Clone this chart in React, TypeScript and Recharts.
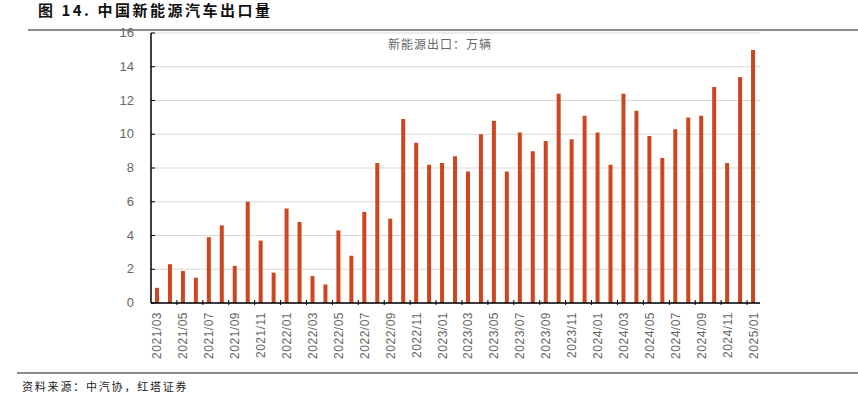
import React from 'react';
import { BarChart, Bar, XAxis, YAxis, CartesianGrid } from 'recharts';

const months = [
    '2021/03', '2021/04', '2021/05', '2021/06', '2021/07', '2021/08', '2021/09', '2021/10', '2021/11', '2021/12',
    '2022/01', '2022/02', '2022/03', '2022/04', '2022/05', '2022/06', '2022/07', '2022/08', '2022/09', '2022/10', '2022/11', '2022/12',
    '2023/01', '2023/02', '2023/03', '2023/04', '2023/05', '2023/06', '2023/07', '2023/08', '2023/09', '2023/10', '2023/11', '2023/12',
    '2024/01', '2024/02', '2024/03', '2024/04', '2024/05', '2024/06', '2024/07', '2024/08', '2024/09', '2024/10', '2024/11', '2024/12',
    '2025/01',
];

// 新能源出口，万辆
const exports = [
    0.9, 2.3, 1.9, 1.5, 3.9, 4.6, 2.2, 6.0, 3.7, 1.8,
    5.6, 4.8, 1.6, 1.1, 4.3, 2.8, 5.4, 8.3, 5.0, 10.9, 9.5, 8.2,
    8.3, 8.7, 7.8, 10.0, 10.8, 7.8, 10.1, 9.0, 9.6, 12.4, 9.7, 11.1,
    10.1, 8.2, 12.4, 11.4, 9.9, 8.6, 10.3, 11.0, 11.1, 12.8, 8.3, 13.4,
    15.0,
];

const yTicks = [0, 2, 4, 6, 8, 10, 12, 14, 16];

const data = months.map((m, i) => ({ month: m, value: exports[i] }));

const PLOT_LEFT = 151;
const PLOT_RIGHT = 760;
const BAND = (PLOT_RIGHT - PLOT_LEFT) / months.length;
const FONT = '"Liberation Sans", Arial, sans-serif';
const CJK = '"Noto Sans CJK SC", sans-serif';

const XTick = (props: any) => {
    const { x, y, payload } = props;
    const i = months.indexOf(payload.value);
    const showMark = i + 2 < months.length;
    return (
        <g>
            {showMark && (
                <line x1={x + BAND * 1.5} x2={x + BAND * 1.5} y1={y} y2={y - 5} stroke="#000" strokeWidth={1} />
            )}
            <text
                transform={`translate(${x + 4},${y + 7}) rotate(-90)`}
                textAnchor="end"
                fill="#666"
                fontSize={12}
                fontFamily={FONT}
                letterSpacing={0.5}
            >
                {payload.value}
            </text>
        </g>
    );
};

const YTick = (props: any) => {
    const { x, y, payload } = props;
    return (
        <g>
            <line x1={PLOT_LEFT} x2={PLOT_LEFT + 4} y1={y} y2={y} stroke="#000" strokeWidth={1} />
            <text x={x} y={y} dy={4} textAnchor="end" fill="#666" fontSize={13} fontFamily={FONT}>
                {payload.value}
            </text>
        </g>
    );
};

const App: React.FC = () => {
    return (
        <div style={{ position: 'absolute', left: 0, top: 0, width: 858, height: 394, background: '#fff', overflow: 'hidden' }}>
            <div style={{ position: 'absolute', left: 38, top: 0, fontFamily: CJK, fontWeight: 700, fontSize: 15, lineHeight: '20px', color: '#111', letterSpacing: 2.5 }}>
                图 14. 中国新能源汽车出口量
            </div>
            <div style={{ position: 'absolute', left: 28, right: 0, top: 29, height: 2, background: '#8c8c8c' }} />

            <BarChart
                width={858}
                height={394}
                data={data}
                margin={{ top: 33, right: 858 - PLOT_RIGHT, left: 0, bottom: 31 }}
                style={{ position: 'absolute', left: 0, top: 0 }}
            >
                <CartesianGrid vertical={false} stroke="#d9d9d9" strokeWidth={1} />
                <XAxis
                    dataKey="month"
                    interval={1}
                    height={60}
                    tick={<XTick />}
                    tickLine={false}
                    tickSize={0}
                    axisLine={{ stroke: '#000', strokeWidth: 1.5 }}
                />
                <YAxis
                    width={PLOT_LEFT}
                    domain={[0, 16]}
                    ticks={yTicks}
                    interval={0}
                    tickSize={0}
                    tickMargin={17}
                    tickLine={false}
                    axisLine={{ stroke: '#000', strokeWidth: 1.5 }}
                    tick={<YTick />}
                />
                <Bar dataKey="value" fill="#CC4720" barSize={4} isAnimationActive={false} />
            </BarChart>

            <div style={{ position: 'absolute', left: 388, top: 36, fontFamily: CJK, fontSize: 12, lineHeight: '16px', color: '#666', letterSpacing: 1 }}>
                新能源出口：万辆
            </div>

            <div style={{ position: 'absolute', left: 17, right: 0, top: 372, height: 2, background: '#8c8c8c' }} />
            <div style={{ position: 'absolute', left: 22, top: 378, fontFamily: CJK, fontSize: 11, lineHeight: '16px', color: '#222', letterSpacing: 1.8 }}>
                资料来源：中汽协，红塔证券
            </div>
        </div>
    );
};

export default App;
